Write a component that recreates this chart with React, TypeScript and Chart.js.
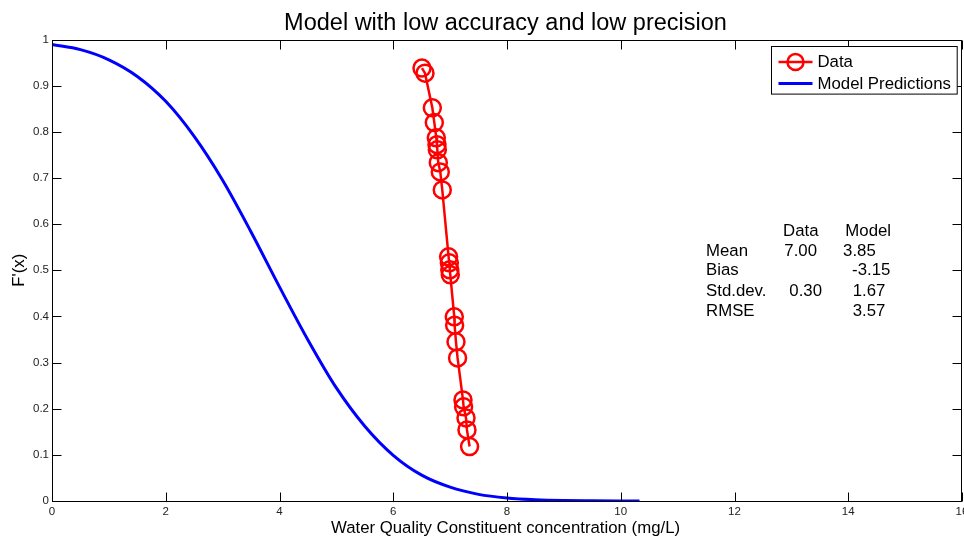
import React, { useEffect, useRef } from "react";
import { Chart, registerables } from "chart.js";

Chart.register(...registerables);

// Observed concentrations (mg/L) and their exceedance probability F'(x)
const dataX = [
  6.505, 6.558, 6.687, 6.722, 6.757, 6.769, 6.775, 6.792, 6.827, 6.862,
  6.973, 6.986, 6.994, 7.003, 7.073, 7.079, 7.103, 7.131, 7.226, 7.237,
  7.279, 7.296, 7.342,
];
const dataY = [
  0.938, 0.927, 0.852, 0.82, 0.787, 0.772, 0.761, 0.733, 0.713, 0.674,
  0.529, 0.516, 0.501, 0.49, 0.399, 0.381, 0.345, 0.31, 0.219, 0.204,
  0.18, 0.154, 0.118,
];

// Model prediction curve
const modelX = [
  0, 0.5, 1, 1.5, 2, 2.5, 3, 3.5, 4, 4.5, 5, 5.5, 6, 6.5, 7, 7.5, 8, 8.5, 9,
  9.5, 10, 10.33,
];
const modelY = [
  0.989, 0.978, 0.956, 0.92, 0.866, 0.79, 0.695, 0.583, 0.464, 0.349, 0.245,
  0.162, 0.099, 0.056, 0.03, 0.0144, 0.0065, 0.0027, 0.001, 0.0004, 0.0001,
  0.0001,
];

// Summary statistics table
const statHeaders = ["Data", "Model"];
const statRows = ["Mean", "Bias", "Std.dev.", "RMSE"];
const dataStats = ["7.00", "", "0.30", ""];
const modelStats = ["3.85", "-3.15", "1.67", "3.57"];

const xTicks = [0, 2, 4, 6, 8, 10, 12, 14, 16];
const yTicks = [0, 0.1, 0.2, 0.3, 0.4, 0.5, 0.6, 0.7, 0.8, 0.9, 1];

const titleText = "Model with low accuracy and low precision";
const xLabel = "Water Quality Constituent concentration (mg/L)";
const yLabel = "F'(x)";
const legendLabels = ["Data", "Model Predictions"];

const FONT = '"Liberation Sans", Arial, Helvetica, sans-serif';
const RED = "#ff0000";
const BLUE = "#0000ff";

const decorPlugin = {
  id: "decor",
  afterDraw(chart: any) {
    const { ctx, chartArea: a, scales } = chart;
    const xs = scales.x;
    const ys = scales.y;
    ctx.save();

    // axes box
    ctx.strokeStyle = "#000";
    ctx.lineWidth = 1;
    const L = Math.round(a.left) + 0.5;
    const T = Math.round(a.top) + 0.5;
    const R = Math.round(a.right) - 0.5;
    const B = Math.round(a.bottom) + 0.5;
    ctx.strokeRect(L, T, R - L, B - T);

    // inward tick marks on all four sides
    const tl = 9;
    ctx.beginPath();
    xTicks.forEach((v) => {
      const px = Math.round(xs.getPixelForValue(v)) + 0.5;
      ctx.moveTo(px, B);
      ctx.lineTo(px, B - tl);
      ctx.moveTo(px, T);
      ctx.lineTo(px, T + tl);
    });
    yTicks.forEach((v) => {
      const py = Math.round(ys.getPixelForValue(v)) + 0.5;
      ctx.moveTo(L, py);
      ctx.lineTo(L + tl, py);
      ctx.moveTo(R, py);
      ctx.lineTo(R - tl, py);
    });
    ctx.stroke();

    ctx.fillStyle = "#000";

    // title
    ctx.font = `23.5px ${FONT}`;
    ctx.textAlign = "center";
    ctx.textBaseline = "alphabetic";
    ctx.fillText(titleText, (a.left + a.right) / 2 - 1.5, 30);

    // axis labels
    ctx.font = `16.8px ${FONT}`;
    ctx.fillText(xLabel, (a.left + a.right) / 2 - 1.5, 533);
    ctx.save();
    ctx.translate(19, (a.top + a.bottom) / 2);
    ctx.rotate(-Math.PI / 2);
    ctx.textBaseline = "middle";
    ctx.fillText(yLabel, 0, 0);
    ctx.restore();

    // statistics table anchored in data coordinates
    const x0 = xs.getPixelForValue(11.5);
    const yMid = ys.getPixelForValue(0.5);
    ctx.textAlign = "left";
    ctx.textBaseline = "middle";
    ctx.font = `16.8px ${FONT}`;
    const rowOff = [-18.5, 0.5, 21.5, 41.5];
    ctx.fillText(statHeaders[0], x0 + 77, yMid - 38.5);
    ctx.fillText(statHeaders[1], x0 + 139.3, yMid - 38.5);
    const dataCol = [78.3, 0, 83.3, 0];
    const modelCol = [137, 146, 146.6, 146.6];
    statRows.forEach((r, i) => {
      const yy = yMid + rowOff[i];
      ctx.fillText(r, x0, yy);
      if (dataStats[i]) ctx.fillText(dataStats[i], x0 + dataCol[i], yy);
      if (modelStats[i]) ctx.fillText(modelStats[i], x0 + modelCol[i], yy);
    });

    // legend box
    const bw = 185.7;
    const bh = 47.6;
    const bx = Math.round(a.right - 5.3 - bw) + 0.5;
    const by = Math.round(a.top + 6.2) + 0.5;
    ctx.fillStyle = "#fff";
    ctx.fillRect(bx, by, bw, bh);
    ctx.strokeStyle = "#000";
    ctx.lineWidth = 1;
    ctx.strokeRect(bx, by, bw, bh);

    const r1 = by + 15.5;
    const r2 = by + 37;
    // Data entry: line with circle marker
    ctx.strokeStyle = RED;
    ctx.lineWidth = 2.5;
    ctx.beginPath();
    ctx.moveTo(bx + 7, r1);
    ctx.lineTo(bx + 41, r1);
    ctx.stroke();
    ctx.beginPath();
    ctx.arc(bx + 24, r1, 8, 0, Math.PI * 2);
    ctx.stroke();
    // Model entry: plain line
    ctx.strokeStyle = BLUE;
    ctx.lineWidth = 3;
    ctx.beginPath();
    ctx.moveTo(bx + 7, r2);
    ctx.lineTo(bx + 41, r2);
    ctx.stroke();

    ctx.fillStyle = "#000";
    ctx.font = `16.8px ${FONT}`;
    ctx.textAlign = "left";
    ctx.textBaseline = "middle";
    ctx.fillText(legendLabels[0], bx + 46, r1 + 0.5);
    ctx.fillText(legendLabels[1], bx + 46, r2 + 0.5);

    ctx.restore();
  },
};

export default function App() {
  const ref = useRef<HTMLCanvasElement | null>(null);

  useEffect(() => {
    if (!ref.current) return;
    const chart = new Chart(ref.current, {
      type: "scatter",
      data: {
        datasets: [
          {
            label: legendLabels[1],
            data: modelX.map((x, i) => ({ x, y: modelY[i] })),
            showLine: true,
            borderColor: BLUE,
            borderWidth: 3,
            pointRadius: 0,
            cubicInterpolationMode: "monotone",
            order: 2,
          },
          {
            label: legendLabels[0],
            data: dataX.map((x, i) => ({ x, y: dataY[i] })),
            showLine: true,
            borderColor: RED,
            borderWidth: 2.5,
            pointRadius: 8.5,
            pointBorderWidth: 2.5,
            pointBorderColor: RED,
            pointBackgroundColor: "rgba(0,0,0,0)",
            pointStyle: "circle",
            tension: 0,
            order: 1,
          },
        ],
      },
      options: {
        responsive: false,
        animation: false,
        devicePixelRatio: 1,
        layout: {
          autoPadding: false,
          padding: { left: 0, right: 2, top: 39.5, bottom: 0 },
        },
        plugins: {
          legend: { display: false },
          title: { display: false },
          tooltip: { enabled: false },
        },
        scales: {
          x: {
            type: "linear",
            min: 0,
            max: 16,
            afterFit(scale: any) {
              scale.height = 37;
              scale.paddingLeft = 0;
              scale.paddingRight = 0;
            },
            afterBuildTicks(scale: any) {
              scale.ticks = xTicks.map((v) => ({ value: v }));
            },
            grid: { display: false, drawTicks: false },
            border: { display: false },
            ticks: {
              padding: 4,
              maxRotation: 0,
              autoSkip: false,
              color: "#222",
              font: { family: FONT, size: 11.5 },
              callback: (v: any) => String(v),
            },
          },
          y: {
            type: "linear",
            min: 0,
            max: 1,
            afterFit(scale: any) {
              scale.width = 52;
              scale.paddingTop = 0;
              scale.paddingBottom = 0;
            },
            afterBuildTicks(scale: any) {
              scale.ticks = yTicks.map((v) => ({ value: v }));
            },
            grid: { display: false, drawTicks: false },
            border: { display: false },
            ticks: {
              padding: 3,
              autoSkip: false,
              color: "#222",
              font: { family: FONT, size: 11.5 },
              callback: (v: any) => String(Number(Number(v).toFixed(1))),
            },
          },
        },
      },
      plugins: [decorPlugin],
    });
    return () => chart.destroy();
  }, []);

  return (
    <div
      style={{
        position: "fixed",
        left: 0,
        top: 0,
        width: 964,
        height: 538,
        background: "#fff",
      }}
    >
      <canvas ref={ref} width={964} height={538} style={{ display: "block" }} />
    </div>
  );
}
